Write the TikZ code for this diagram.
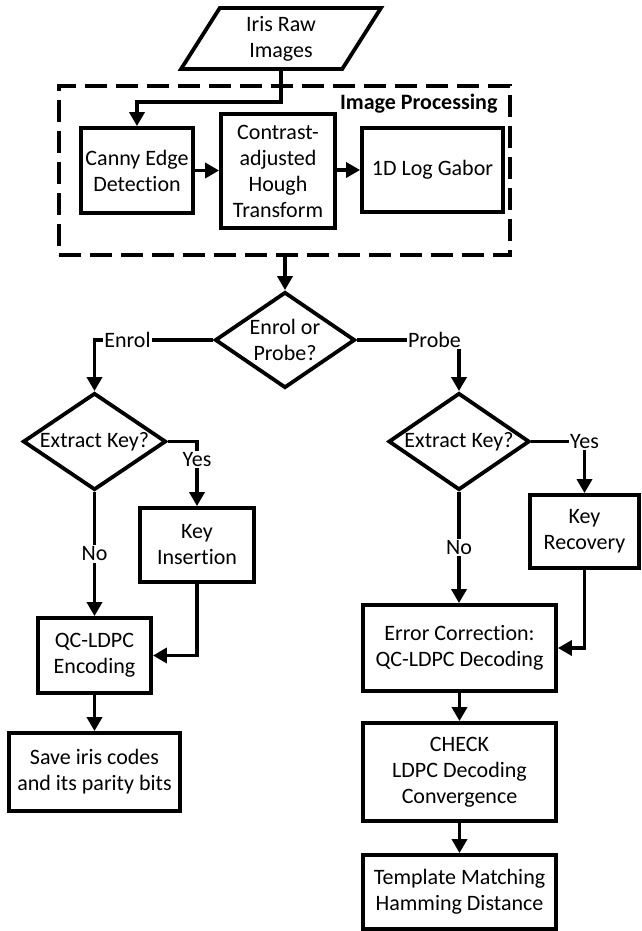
\documentclass[tikz,border=0pt]{standalone}
\usepackage{fontspec}
\setmainfont{Carlito}[Ligatures={NoCommon}]
\usetikzlibrary{shapes.geometric,arrows.meta,calc}
\tikzset{
  txt/.style={font=\fontsize{22}{26}\selectfont, align=center},
  base/.style={txt, line width=3.8pt, inner sep=0pt},
  box/.style={base, draw, rectangle},
  decision/.style={base, draw, diamond},
  iodata/.style={base, draw, trapezium, trapezium left angle=63.8,
    trapezium right angle=116.2, trapezium stretches=true},
  groupbox/.style={draw, line width=3.8pt, dash pattern=on 22pt off 9pt, inner sep=0pt},
  lbl/.style={txt, fill=white, inner sep=1.5pt},
  arr/.style={line width=3.8pt, -{Triangle[length=14pt,width=15pt]}},
  ln/.style={line width=3.8pt}
}
\begin{document}
\begin{tikzpicture}[x=1pt,y=-1pt]
\useasboundingbox (0,0) rectangle (641,931);

% input
\node[iodata, minimum width=200, minimum height=61] (iris) at (281,38.5) {Iris Raw\\Images};

% image processing group
\node[groupbox, minimum width=451, minimum height=169] (proc) at (284.5,170.5) {};
\node[txt, font=\fontsize{22}{26}\selectfont\bfseries, anchor=east] (proclbl) at (501,104) {Image Processing};
\node[box, minimum width=112, minimum height=85] (canny) at (137,170.5) {Canny Edge\\Detection};
\node[box, minimum width=114, minimum height=114] (hough) at (278,171) {Contrast-\\adjusted\\Hough\\Transform};
\node[box, minimum width=141, minimum height=84] (gabor) at (432.5,170) {1D Log Gabor};

% decisions
\node[decision, aspect=1.46, minimum width=140, minimum height=96] (mode) at (285,340) {Enrol or\\Probe?};
\node[decision, aspect=1.47, minimum width=143, minimum height=97] (keyL) at (94.5,441.5) {\makebox[0pt]{Extract Key?}};
\node[decision, aspect=1.45, minimum width=141, minimum height=97] (keyR) at (459,441.5) {\makebox[0pt]{Extract Key?}};

% enrolment branch
\node[box, minimum width=114, minimum height=74] (ins) at (197,545) {Key\\Insertion};
\node[box, minimum width=113, minimum height=75] (enc) at (94.5,655.5) {QC-LDPC\\Encoding};
\node[box, minimum width=171, minimum height=78] (save) at (94.5,772) {Save iris codes\\and its parity bits};

% probe branch
\node[box, minimum width=109, minimum height=73] (rec) at (584.5,531.5) {Key\\Recovery};
\node[box, minimum width=193, minimum height=86] (dec) at (459.5,648) {Error Correction:\\QC-LDPC Decoding};
\node[box, minimum width=193, minimum height=98] (conv) at (459.5,772) {CHECK\\LDPC Decoding\\Convergence};
\node[box, minimum width=193, minimum height=74] (match) at (459.5,892) {Template Matching\\Hamming Distance};

% connectors
\coordinate (irisout) at (iris.center |- iris.south);
\draw[arr] (irisout) -- ++(0,31) -| (canny.north);
\draw[arr] (canny.east) -- (canny.east -| hough.west);
\draw[arr] (hough.east |- gabor.west) -- (gabor.west);
\draw[arr] (mode.north |- proc.south) -- (mode.north);

\draw[arr] (mode.west) -| node[lbl, pos=0.361] {Enrol} (keyL.north);
\draw[arr] (mode.east) -| node[lbl, pos=0.38] {Probe} (keyR.north);

\draw[arr] (keyL.east) -| node[lbl, pos=0.64] {Yes} (ins.north);
\draw[arr] (keyL.south) -- node[lbl] {No} (enc.north);
\draw[arr] (ins.south) |- (enc.east);
\draw[arr] (enc.south) -- (save.north);

\draw[arr] (keyR.east) -| node[lbl, pos=0.5] {Yes} (rec.north);
\draw[arr] (keyR.south) -- node[lbl] {No} (keyR.south |- dec.north);
\draw[arr] (rec.south) |- (dec.east);
\draw[arr] (dec.south) -- (conv.north);
\draw[arr] (conv.south) -- (match.north);
\end{tikzpicture}
\end{document}
